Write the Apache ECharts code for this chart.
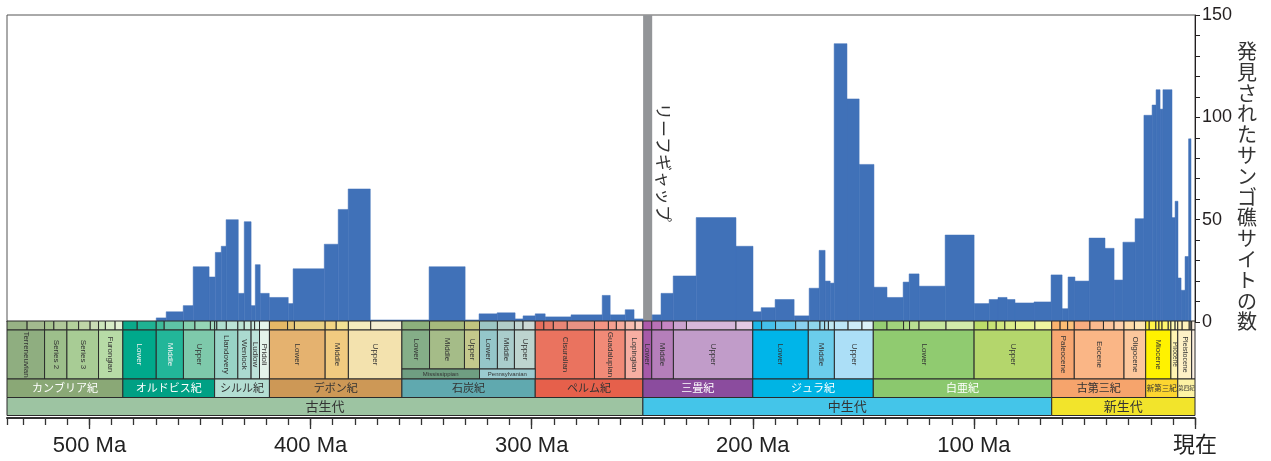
<!DOCTYPE html>
<html><head><meta charset="utf-8">
<script src="https://cdn.jsdelivr.net/npm/echarts@6/dist/echarts.min.js"></script>
<style>html,body{margin:0;padding:0;background:#fff}#c{width:1271px;height:461px}</style>
</head><body><div id="c"></div>
<script>
// ---------------- DATA ----------------
const binStart = [469.8,465.3,457.6,453.1,445.9,443.1,440.4,438.2,432.7,430.0,426.9,425.0,422.8,418.7,410.1,407.9,393.8,387.5,383.0,373.0,346.4,330.1,323.8,315.6,307.5,303.9,298.4,293.9,282.2,268.1,264.5,257.7,253.7,
  245.5,241.5,236.0,225.6,207.6,199.9,196.2,189.9,181.3,174.5,170.0,167.3,165.0,163.2,157.4,151.9,145.2,139.3,132.0,129.3,124.8,113.0,99.9,93.1,89.1,85.0,81.4,72.8,65.1,60.1,57.4,54.3,47.9,40.7,36.6,32.6,27.1,23.1,19.4,17.6,15.8,14.5,10.4,9.0,7.7,6.3,4.5,2.9];
const binEnd = [465.3,457.6,453.1,445.9,443.1,440.4,438.2,432.7,430.0,426.9,425.0,422.8,418.7,410.1,407.9,393.8,387.5,383.0,373.0,346.4,330.1,323.8,315.6,307.5,303.9,298.4,293.9,282.2,268.1,264.5,257.7,253.7,249.6,
  241.5,236.0,225.6,207.6,199.9,196.2,189.9,181.3,174.5,170.0,167.3,165.0,163.2,157.4,151.9,145.2,139.3,132.0,129.3,124.8,113.0,99.9,93.1,89.1,85.0,81.4,72.8,65.1,60.1,57.4,54.3,47.9,40.7,36.6,32.6,27.1,23.1,19.4,17.6,15.8,14.5,10.4,9.0,7.7,6.3,4.5,2.9,1.8];
const siteCounts = [2,5,8,27,22,34,37,50,14,49,8,28,14,12,9,26,38,55,65,1,27,1,4,4.5,1.5,3,4,2.5,3.5,13,3.5,6,1.5,
  3.5,14,22.5,51,37,5,7,11,3,16.5,35,20,19,136,109,77,17,12,19.5,23.5,17.5,42.5,9,11,12,11,9.3,9.8,23,6.5,22,20,41,36,20.5,39,50.5,101,106,113.5,104,113.5,51,59,21.5,15.5,32,89.5];
const reefGap = [249.6, 245.5];
const gapLabel = 'リーフギャップ';
const yTitle = '発見されたサンゴ礁サイトの数';
const yTickLabels = [0, 50, 100, 150];
const xTickLabels = [500, 400, 300, 200, 100, 0];

const eraBounds = [537.3, 249.7, 64.8, 0];
const eraNames = ['古生代', '中生代', '新生代'];
const periodBounds = [537.3, 484.9, 443.4, 418.6, 358.7, 298.4, 249.7, 200.0, 145.5, 64.8, 22.3, 7.8, 0];
const periodNames = ['カンブリア紀', 'オルドビス紀', 'シルル紀', 'デボン紀', '石炭紀', 'ペルム紀', '三畳紀', 'ジュラ紀', '白亜紀', '古第三紀', '新第三紀', '第四紀'];
const epochBounds = [537.3, 520.3, 510.2, 495.9, 484.9, 469.8, 457.5, 443.4, 432.9, 426.9, 423.1, 418.6, 393.4, 382.9, 358.7, 346.2, 330.4, 323.6, 315.5, 307.8, 298.4, 271.6, 257.7, 249.7, 245.7, 235.9, 200.0, 174.9, 163.1, 145.5, 99.9, 64.8, 54.6, 32.1, 22.3, 10.9, 7.8, 1.5, 0];
const epochNames = ['Terreneuvian', 'Series 2', 'Series 3', 'Furongian', 'Lower', 'Middle', 'Upper', 'Llandovery', 'Wenlock', 'Ludlow', 'Pridoli', 'Lower', 'Middle', 'Upper', 'Lower', 'Middle', 'Upper', 'Lower', 'Middle', 'Upper', 'Cisuralian', 'Guadalupian', 'Lopingian', 'Lower', 'Middle', 'Upper', 'Lower', 'Middle', 'Upper', 'Lower', 'Upper', 'Paleocene', 'Eocene', 'Oligocene', 'Miocene', 'Pliocene', 'Pleistocene', ''];
const subEpochBounds = [358.7, 323.6, 298.4];
const subEpochNames = ['Mississippian', 'Pennsylvanian'];
const stageBounds = [537.3, 528.2, 520.3, 516.1, 510.2, 504.9, 499.7, 495.9, 492.8, 488.4, 484.9,
  478.4, 469.8, 466.2, 457.5, 452.3, 445.3, 443.4,
  442.4, 438.1, 432.9, 430.0, 426.9, 425.3, 423.1, 418.6,
  410.4, 407.3, 393.4, 388.4, 382.9, 372.8, 358.7,
  346.2, 330.4, 323.6, 315.5, 307.8, 303.9, 298.4,
  294.5, 290.2, 283.9, 271.6, 265.3, 261.7, 257.7, 253.2, 249.7,
  245.7, 241.2, 235.9, 230.0, 207.6, 200.0,
  196.0, 189.7, 180.6, 174.9, 169.6, 167.5, 165.8, 163.1, 156.9, 150.6, 145.5,
  139.3, 131.8, 129.1, 124.8, 112.6, 99.9, 93.7, 89.9, 86.0, 81.2, 72.4, 64.8,
  61.0, 57.6, 54.6, 47.5, 41.4, 36.6, 32.1, 27.4, 22.3,
  20.7, 17.7, 16.3, 14.9, 12.1, 10.9, 9.0, 7.8, 5.8, 2.6, 1.8, 1.5, 0];

// ---------------- STYLES ----------------
const JP = '"Noto Sans CJK JP", sans-serif';
const LAT = '"Liberation Sans", "Noto Sans CJK JP", Arial, sans-serif';
const barColor = '#4071b8';
const eraFill = ['#9dc4a2', '#44c5e9', '#f2e42b'];
const periodFill = ['#8aa876', '#00a084', '#b3ded2', '#cd9856', '#60a9af', '#e6604b', '#8b4c9e', '#00b4e4', '#8bc86e', '#f6a46c', '#fcd530', '#fdf3a4'];
const periodText = ['#fff', '#fff', '#333', '#333', '#333', '#333', '#fff', '#fff', '#fff', '#333', '#333', '#333'];
const periodFont = [11, 11, 11, 11, 11, 11, 11, 11, 11, 11, 7.5, 5.5];
const epochFill = ['#8fae80', '#9dbf8b', '#a8cc95', '#b7dba6', '#00a98b', '#22b699', '#7ec9ab', '#98d3c6', '#abdad0', '#bde3da', '#e4f3ea',
  '#e5b26f', '#f1cb80', '#f3e2ae', '#85ae88', '#a5bc88', '#c4c88c', '#95c6c9', '#aacdcc', '#bdd4cf', '#ea735f', '#f18a77', '#f7aea2',
  '#a65aa8', '#b57fba', '#c19cc9', '#00b5e9', '#6bcdeb', '#acdff7', '#90cb70', '#b4d66c', '#f7a772', '#fab686', '#fcc79c', '#fff200', '#fff4b2', '#fef1c6', '#fef2e2'];
const epochTextWhite = [4, 5];
const subEpochFill = ['#6f9e82', '#9ccbd0'];
const stageFill = ['#97b285','#a3ba8f','#a6c38f','#b0c89a','#b3d09c','#bfd6a8','#c9dcb5','#cce6bb','#d7ecc6','#e2f1d3',
  '#0aa98a','#1fb293','#3dbb9a','#5ec3a6','#86cfae','#95d5b6','#a3dbc0',
  '#a3d8c6','#b0dfcf','#bce4d7','#bce4d4','#c9eadb','#c9eadf','#d6efe5','#e6f5ec',
  '#e5b866','#e6c575','#e8d083','#f1d584','#f2e195','#f3ebbe','#f4eed2',
  '#8cb07c','#a6b97c','#c2c47f','#9cc6c4','#b2cdc8','#c1d5d1','#cdd9d5',
  '#e66e5c','#e77a68','#e88676','#e89283','#f39583','#f59f8f','#f7ab9c','#f8bcaf','#fac9bf',
  '#ad5aaa','#b872b6','#c686c3','#cba3cf','#d7b8da','#e3c9e4',
  '#1cb6e6','#45c0ea','#67c8ec','#8ad1ef','#8fd7ec','#a0dcef','#b0e2f0','#c0e8f2','#bde6f7','#cdecf8','#dcf2fa',
  '#95cd72','#a1d37c','#addb88','#b9df92','#c6e59e','#d2eaab','#bcdc6a','#c7e275','#d1e77f','#dbec89','#e6f194','#f0f5a0',
  '#fbb36f','#fdbe74','#fdc27c','#f9ad80','#fbb98e','#fcc49c','#fdd0aa','#fedba8','#fee5b4',
  '#fff33a','#fff548','#fff655','#fff762','#fff86f','#fff97c','#fffab3','#fffbbf','#fff0b5','#fff2bc','#fff3c8','#fff3d4','#fef2e2'];
// row layout (pixels below the top of the time-scale band)
const ROW = { stage: [0, 9], epoch: [9, 58], epochShort: [9, 48], sub: [48, 58], period: [58, 76.5], era: [76.5, 94.5] };
const X_MAX = 537.3;

// ---------------- BUILD ----------------
const tsItems = [];
for (let i = 0; i < stageBounds.length - 1; i++) {
  tsItems.push({ x0: stageBounds[i], x1: stageBounds[i + 1], y0: ROW.stage[0], y1: ROW.stage[1], fill: stageFill[i] });
}
for (let i = 0; i < epochBounds.length - 1; i++) {
  const x0 = epochBounds[i], x1 = epochBounds[i + 1];
  const short = x0 <= subEpochBounds[0] && x1 >= subEpochBounds[subEpochBounds.length - 1];
  const r = short ? ROW.epochShort : ROW.epoch;
  const name = epochNames[i];
  const fs = name === 'Pliocene' ? 6.5 : (name === 'Pleistocene' ? 7 : 8);
  tsItems.push({ x0, x1, y0: r[0], y1: r[1], fill: epochFill[i], text: name, vertical: true,
    color: epochTextWhite.includes(i) ? '#f4f4f4' : '#333', font: fs + 'px ' + LAT });
}
for (let i = 0; i < subEpochNames.length; i++) {
  tsItems.push({ x0: subEpochBounds[i], x1: subEpochBounds[i + 1], y0: ROW.sub[0], y1: ROW.sub[1], fill: subEpochFill[i],
    text: subEpochNames[i], color: '#333', font: '6px ' + LAT });
}
for (let i = 0; i < periodNames.length; i++) {
  tsItems.push({ x0: periodBounds[i], x1: periodBounds[i + 1], y0: ROW.period[0], y1: ROW.period[1], fill: periodFill[i],
    text: periodNames[i], color: periodText[i], font: periodFont[i] + 'px ' + JP });
}
for (let i = 0; i < eraNames.length; i++) {
  tsItems.push({ x0: eraBounds[i], x1: eraBounds[i + 1], y0: ROW.era[0], y1: ROW.era[1], fill: eraFill[i],
    text: eraNames[i], color: '#333', font: '13px ' + JP });
}
const histData = binStart.map((s, i) => [s, binEnd[i], siteCounts[i]]);

const chart = echarts.init(document.getElementById('c'), null, { renderer: 'canvas' });
chart.setOption({
  animation: false,
  backgroundColor: '#fff',
  grid: [
    { left: 7, right: 76, top: 15, height: 307, show: true, borderColor: '#555', borderWidth: 1, backgroundColor: 'transparent' },
    { left: 7, right: 76, top: 321, height: 95 },
    { left: 7, right: 76, top: 321, height: 95 }
  ],
  xAxis: [
    { gridIndex: 0, type: 'value', min: 0, max: X_MAX, inverse: true, show: false },
    { gridIndex: 1, type: 'value', min: 0, max: X_MAX, inverse: true, position: 'bottom', offset: 2, interval: 100,
      axisLine: { show: true, onZero: false, lineStyle: { color: '#333', width: 2 } },
      axisTick: { show: true, length: 11, customValues: xTickLabels, lineStyle: { color: '#333', width: 1.3 } },
      axisLabel: { show: true, customValues: xTickLabels, margin: 17, fontSize: 22, fontFamily: LAT, color: '#222',
        formatter: v => (v === 0 ? '現在' : v + ' Ma') },
      splitLine: { show: false } },
    { gridIndex: 2, type: 'value', min: 0, max: X_MAX, inverse: true, position: 'bottom', offset: 2, interval: 10,
      axisLine: { show: false, onZero: false },
      axisTick: { show: true, length: 7, lineStyle: { color: '#333', width: 1.3 } },
      axisLabel: { show: false }, splitLine: { show: false } }
  ],
  yAxis: [
    { gridIndex: 0, type: 'value', position: 'right', min: 0, max: 150, interval: 10,
      axisLine: { show: true, onZero: false, lineStyle: { color: '#231f20', width: 1 } },
      axisTick: { show: true, inside: false, length: 5, lineStyle: { color: '#231f20' } },
      axisLabel: { margin: 7, fontSize: 18, fontFamily: LAT, color: '#231f20',
        formatter: v => (yTickLabels.includes(v) ? String(v) : '') },
      splitLine: { show: false } },
    { gridIndex: 1, type: 'value', min: 0, max: 95, inverse: true, show: false },
    { gridIndex: 2, type: 'value', min: 0, max: 95, inverse: true, show: false }
  ],
  series: [
    { type: 'custom', xAxisIndex: 0, yAxisIndex: 0, silent: true, data: [[reefGap[0], reefGap[1], 150]],
      encode: { x: [0, 1], y: 2 },
      renderItem: (params, api) => {
        const a = api.coord([api.value(0), api.value(2)]);
        const b = api.coord([api.value(1), 0]);
        return { type: 'rect', shape: { x: a[0], y: a[1], width: b[0] - a[0], height: b[1] - a[1] }, style: { fill: '#939598' } };
      } },
    { type: 'custom', xAxisIndex: 0, yAxisIndex: 0, silent: true, data: histData,
      encode: { x: [0, 1], y: 2 },
      renderItem: (params, api) => {
        const a = api.coord([api.value(0), api.value(2)]);
        const b = api.coord([api.value(1), 0]);
        return { type: 'rect', shape: { x: a[0], y: a[1], width: b[0] - a[0], height: b[1] - a[1] },
          style: { fill: barColor, stroke: barColor, lineWidth: 0.5 } };
      } },
    { type: 'custom', xAxisIndex: 1, yAxisIndex: 1, silent: true,
      data: tsItems.map(d => [d.x0, d.x1, d.y0, d.y1]),
      encode: { x: [0, 1], y: [2, 3] },
      renderItem: (params, api) => {
        const it = tsItems[params.dataIndex];
        const p0 = api.coord([it.x0, it.y0]);
        const p1 = api.coord([it.x1, it.y1]);
        const x = Math.min(p0[0], p1[0]), w = Math.abs(p1[0] - p0[0]);
        const y = Math.min(p0[1], p1[1]), h = Math.abs(p1[1] - p0[1]);
        const children = [{ type: 'rect', shape: { x, y, width: w, height: h },
          style: { fill: it.fill, stroke: '#2b2b2b', lineWidth: 1 } }];
        if (it.text) {
          children.push({ type: 'text', x: x + w / 2, y: y + h / 2, rotation: it.vertical ? -Math.PI / 2 : 0,
            style: { text: it.text, fill: it.color, font: it.font, align: 'center', verticalAlign: 'middle' } });
        }
        return { type: 'group', children };
      } }
  ],
  graphic: [
    { type: 'text', x: 663.5, y: 162.5, rotation: -Math.PI / 2, silent: true,
      style: { text: gapLabel, font: '17px ' + JP, fill: '#333', align: 'center', verticalAlign: 'middle' } },
    { type: 'text', x: 1247, y: 41, silent: true,
      style: { text: yTitle.split('').join('\n'), font: '20px ' + JP, lineHeight: 20.8, fill: '#333', align: 'center', verticalAlign: 'top' } }
  ]
});
</script>
</body></html>
